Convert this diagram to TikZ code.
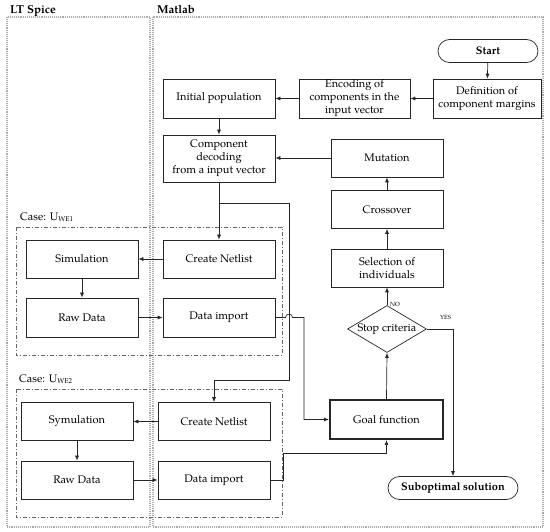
\documentclass[tikz,border=0pt]{standalone}
\usepackage{fontspec}
\setmainfont{TeX Gyre Pagella}
\usetikzlibrary{arrows.meta,shapes.geometric}
\begin{document}
\begin{tikzpicture}[x=1pt,y=-1pt,
  font=\fontsize{11}{13}\selectfont,
  >={Latex[length=5pt,width=4pt]},
  box/.style={draw=black!85,line width=0.7pt,minimum width=112pt,minimum height=38pt,align=center,inner sep=1pt},
  term/.style={draw=black!85,line width=0.7pt,rounded corners=11.5pt,minimum height=23pt,inner sep=1pt,font=\fontsize{11}{13}\selectfont\bfseries},
  diam/.style={draw=black!85,line width=0.7pt,shape=diamond,minimum width=79pt,minimum height=47pt,inner sep=0pt},
  panel/.style={draw=gray!65,line width=1.1pt,densely dotted},
  casebox/.style={draw=black!60,line width=0.7pt,dash pattern=on 4pt off 2pt on 1pt off 2pt},
  conn/.style={draw=black!85,line width=0.7pt},
  tiny/.style={font=\fontsize{6}{7}\selectfont,inner sep=0pt},
  hdr/.style={font=\fontsize{11.5}{13}\selectfont\bfseries,inner sep=0pt,anchor=base west},
]
\useasboundingbox (0,0) rectangle (550,532);
% panels
\draw[panel] (7,17) rectangle (150,527);
\draw[panel] (153,17) rectangle (543,527);
\node[hdr] (lts) at (10,14) {LT Spice};
\node[hdr] (mlb) at (157,14) {Matlab};
% case boxes
\draw[casebox] (16,227) rectangle (282,355);
\draw[casebox] (16,389) rectangle (282,517);
\node[anchor=base west,inner sep=0pt] (c1) at (20,221) {Case: U\raisebox{-0.3pt}{\fontsize{7}{8}\selectfont WE1}};
\node[anchor=base west,inner sep=0pt] (c2) at (19,383) {Case: U\raisebox{-0.3pt}{\fontsize{7}{8}\selectfont WE2}};
% nodes
\node[term,minimum width=100pt] (start) at (488,51) {Start};
\node[box,minimum width=108pt,minimum height=39pt] (def) at (487,98.5) {Definition of\\component margins};
\node[box,minimum width=111pt,minimum height=39pt] (enc) at (354.5,98.5) {Encoding of\\components in the\\input vector};
\node[box,minimum height=39pt] (init) at (219,98.5) {Initial population};
\node[box,minimum height=47pt] (dec) at (219,158.5) {Component\\decoding\\from a input vector};
\node[box] (mut) at (387,158) {Mutation};
\node[box] (cross) at (387,209.5) {Crossover};
\node[box] (sel) at (387,268) {Selection of\\individuals};
\node[diam] (stop) at (387,329) {};
\node[inner sep=0pt] (stoptxt) at (387,329) {Stop criteria};
\node[box,minimum width=113pt,minimum height=39pt,line width=2pt] (goal) at (386.5,419.5) {Goal function};
\node[term,minimum width=130pt] (sub) at (453,488) {Suboptimal solution};
\node[box] (sim1) at (82,259) {Simulation};
\node[box] (cn1) at (219,259) {Create Netlist};
\node[box,minimum height=39pt] (raw1) at (82,317.5) {Raw Data};
\node[box,minimum height=39pt] (di1) at (219,317.5) {Data import};
\node[box] (sym2) at (77,421.5) {Symulation};
\node[box] (cn2) at (214,421.5) {Create Netlist};
\node[box] (raw2) at (77,480) {Raw Data};
\node[box] (di2) at (214,480) {Data import};
% labels
\node[tiny,anchor=west] (no) at (390,304) {NO};
\node[tiny,anchor=west] (yes) at (440,317) {YES};
% coordinates
\coordinate (b0) at (219,203);
\coordinate (b1) at (289,203);
\coordinate (b2) at (289,380);
\coordinate (b3) at (214,380);
\coordinate (h0) at (285.5,317.5);
\coordinate (h1) at (292.5,317.5);
\coordinate (d1) at (304,317.5);
\coordinate (e1) at (283,480);
\coordinate (e2) at (283,453);
% connectors
\draw[conn,->] (start) -- (def);
\draw[conn,->] (def) -- (enc);
\draw[conn,->] (enc) -- (init);
\draw[conn,->] (init) -- (dec);
\draw[conn,->] (mut.west) -- (mut.west -| dec.east);
\draw[conn,->] (cross) -- (mut);
\draw[conn,->] (sel) -- (cross);
\draw[conn,->] (stop.north) -- (sel.south);
\draw[conn,->] (goal.north) -- (stop.south);
\draw[conn,->] (stop.east) -| (sub.north);
\draw[conn,->] (dec.south) -- (cn1.north);
\draw[conn,->] (b0) -- (b1) -- (b2) -- (b3) -- (cn2.north);
\draw[conn,->] (cn1) -- (sim1);
\draw[conn,->] (sim1) -- (raw1);
\draw[conn,->] (raw1) -- (di1);
\draw[conn,->] (di1.east) -- (h0) .. controls (285.5,313) and (292.5,313) .. (h1) -- (d1) |- (goal.west);
\draw[conn,->] (cn2) -- (sym2);
\draw[conn,->] (sym2) -- (raw2);
\draw[conn,->] (raw2) -- (di2);
\draw[conn,->] (di2.east) -- (e1) -- (e2) -| (goal.south);
\end{tikzpicture}
\end{document}
